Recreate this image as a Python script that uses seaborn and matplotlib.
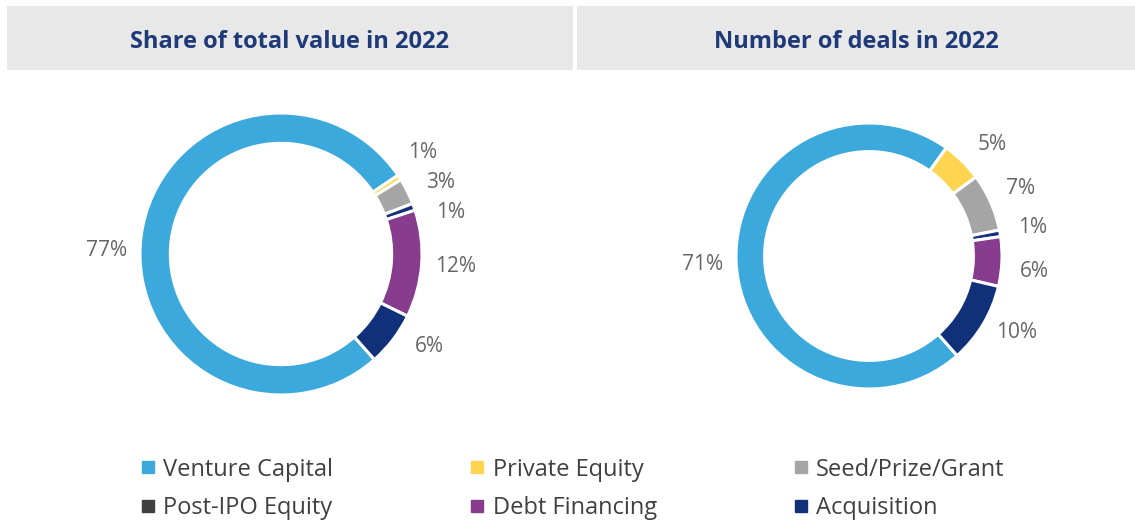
import matplotlib
matplotlib.use("Agg")
import numpy as np
import matplotlib.pyplot as plt
import seaborn as sns
from matplotlib.patches import Rectangle
from matplotlib.lines import Line2D

# data (percent shares)
categories = ["Venture Capital", "Private Equity", "Seed/Prize/Grant",
              "Post-IPO Equity", "Debt Financing", "Acquisition"]
value_share = [77.1, 0.6, 3.0, 0.8, 12.3, 6.2]
deal_share = [71.4, 5.0, 7.0, 0.8, 6.0, 9.8]
titles = ["Share of total value in 2022", "Number of deals in 2022"]

sns.set_theme(style="white")
plt.rcParams['font.family'] = ['Open Sans', 'DejaVu Sans']

wedge_colors = ["#3BA9DC", "#FFD450", "#A5A5A5", "#16307A", "#873C8D", "#10317A"]
legend_colors = ["#3BA9DC", "#FFD450", "#A5A5A5", "#404040", "#873C8D", "#10317A"]
navy = "#1F3A78"
label_grey = "#666666"

W, H = 1135, 521
fig = plt.figure(figsize=(W / 100, H / 100), dpi=100)

# header bars
for x0, x1, title in [(7, 573, titles[0]), (577, 1135, titles[1])]:
    fig.patches.append(Rectangle((x0 / W, 1 - 70 / H), (x1 - x0) / W, 64 / H,
                                 transform=fig.transFigure, facecolor="#E8E8E8",
                                 edgecolor="none", zorder=0))
    fig.text((x0 + x1) / 2 / W, 1 - 42 / H, title, ha="center", va="center",
             fontsize=17, fontweight="bold", color=navy)


def donut(center, radius, shares, nudges, dist):
    L = 1.4
    side = 2 * L * radius
    ax = fig.add_axes([(center[0] - side / 2) / W, (H - center[1] - side / 2) / H,
                       side / W, side / H])
    wedges, _ = ax.pie(shares, colors=wedge_colors, startangle=-48.5,
                       counterclock=False, radius=1,
                       wedgeprops=dict(width=0.215, edgecolor="white", linewidth=2.2))
    for w, v, nd in zip(wedges, shares, nudges):
        ang = np.deg2rad((w.theta1 + w.theta2) / 2 + nd)
        ax.text(dist * np.cos(ang), dist * np.sin(ang), f"{round(v)}%",
                ha="center", va="center", fontsize=15, color=label_grey)
    ax.set_xlim(-L, L)
    ax.set_ylim(-L, L)
    ax.set_aspect("equal")
    ax.axis("off")
    return ax


donut((281, 254), 141, value_share, [6, 2.8, -2.4, -5.7, 0, 5.3], 1.24)
donut((869, 256), 133, deal_share, [0, -3.3, 0, 0, -3, 3.4], 1.25)

# legend: rows VC/PE/Seed, Post-IPO/Debt/Acq
order = [0, 3, 1, 4, 2, 5]
handles = [Line2D([], [], marker="s", linestyle="none", markersize=8,
                  color=legend_colors[i]) for i in order]
labels = [categories[i] for i in order]
fig.legend(handles, labels, ncol=3, loc="center left",
           bbox_to_anchor=(141 / W, 1 - 489 / H), frameon=False,
           borderpad=0, borderaxespad=0,
           fontsize=17, labelcolor="#404040", handlelength=0.6,
           handletextpad=0.35, columnspacing=5.8, labelspacing=0.62)

fig.savefig("out.png", dpi=100)
